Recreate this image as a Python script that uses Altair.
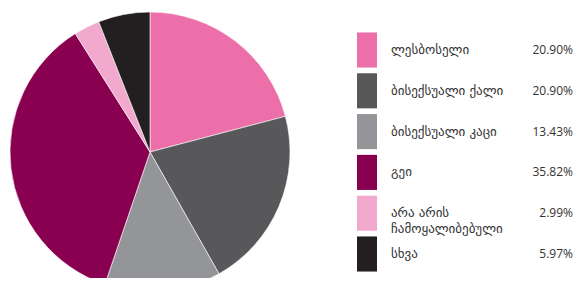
import altair as alt
import pandas as pd

categories = ["ლესბოსელი", "ბისექსუალი ქალი", "ბისექსუალი კაცი", "გეი",
              "არა არის ჩამოყალიბებული", "სხვა"]
labels = ["ლესბოსელი", "ბისექსუალი ქალი", "ბისექსუალი კაცი", "გეი",
          "არა არის\nჩამოყალიბებული", "სხვა"]
values = [20.90, 20.90, 13.43, 35.82, 2.99, 5.97]
pct_labels = ["20.90%", "20.90%", "13.43%", "35.82%", "2.99%", "5.97%"]
colors = ["#ec6fa9", "#58585b", "#949598", "#8a0050", "#f1a9cd", "#231f20"]

df = pd.DataFrame({
    "cat": categories,
    "label": labels,
    "value": values,
    "pct": pct_labels,
    "order": list(range(len(categories))),
})

color = alt.Color("cat:N", scale=alt.Scale(domain=categories, range=colors), legend=None)

pie = alt.Chart(df).mark_arc(radius=140, stroke="white", strokeWidth=0.6).encode(
    theta=alt.Theta("value:Q", stack=True),
    order=alt.Order("order:Q"),
    color=color,
    x=alt.value(142),
    y=alt.value(144),
)

yenc = alt.Y("cat:N", sort=categories,
             scale=alt.Scale(domain=categories, range=[21.6, 266.4],
                             paddingInner=0.14, paddingOuter=0.07),
             axis=None)

swatches = alt.Chart(df).mark_rect().encode(
    x=alt.value(349), x2=alt.value(369), y=yenc, color=color
)

text_labels = alt.Chart(df).mark_text(
    align="left", baseline="middle", lineBreak="\n", font="DejaVu Sans",
    fontSize=13, color="#333333", lineHeight=16
).encode(x=alt.value(383), y=yenc, text="label:N")

pct = alt.Chart(df).mark_text(
    align="right", baseline="middle", font="Open Sans", fontSize=12, color="#333333"
).encode(x=alt.value(565), y=yenc, text="pct:N")

chart = alt.layer(pie, swatches, text_labels, pct).properties(
    width=566, height=270, padding=0,
    autosize=alt.AutoSizeParams(type="none"),
).configure_view(stroke=None)

chart.save("out.html", embed_options={"renderer": "svg", "actions": False})
